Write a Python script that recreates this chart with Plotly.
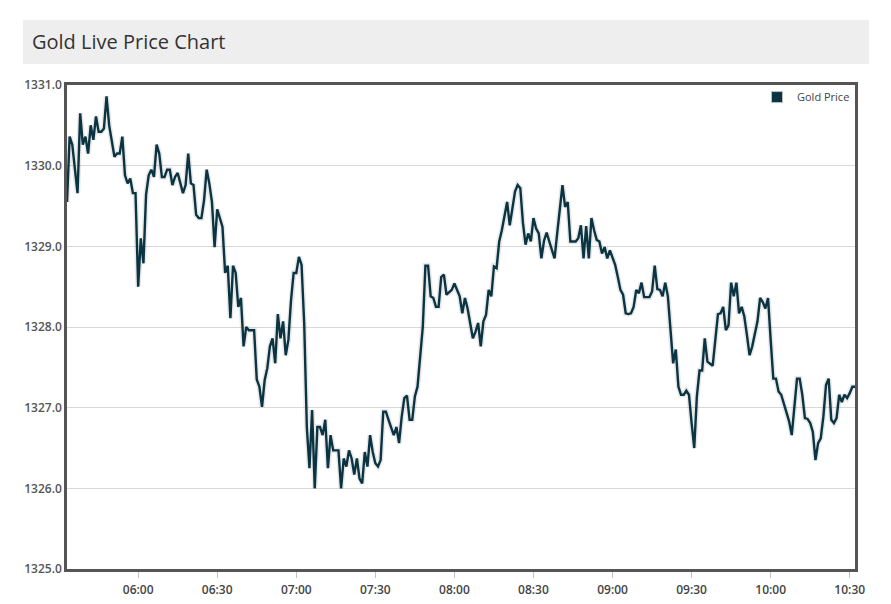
import plotly.graph_objects as go

# ---------------- data ----------------
DATE = "2018-03-14"
title_text = "Gold Live Price Chart"
series_name = "Gold Price"
y_ticks = [1325, 1326, 1327, 1328, 1329, 1330, 1331]

times = [
    "05:33", "05:34", "05:35", "05:37", "05:38", "05:39", "05:40", "05:41", "05:42", "05:43",
    "05:44", "05:45", "05:46", "05:47", "05:48", "05:49", "05:51", "05:52", "05:53", "05:54",
    "05:55", "05:56", "05:57", "05:58", "05:59",
    "06:00", "06:01", "06:02", "06:03", "06:04", "06:05", "06:06", "06:07", "06:08", "06:09",
    "06:10", "06:11", "06:12", "06:13", "06:14", "06:15", "06:16", "06:17", "06:18", "06:19",
    "06:20", "06:21", "06:22", "06:23", "06:24", "06:25", "06:26", "06:27", "06:28", "06:29",
    "06:30", "06:31", "06:32", "06:33", "06:34", "06:35", "06:36", "06:37", "06:38", "06:39",
    "06:40", "06:41", "06:42", "06:43", "06:44", "06:45", "06:46", "06:47", "06:48", "06:49",
    "06:50", "06:51", "06:52", "06:53", "06:54", "06:55", "06:56", "06:57", "06:58", "06:59",
    "07:00", "07:01", "07:02", "07:03", "07:04", "07:05", "07:06", "07:07", "07:08", "07:09",
    "07:10", "07:11", "07:12", "07:13", "07:14", "07:15", "07:16", "07:17", "07:18", "07:19",
    "07:20", "07:21", "07:22", "07:23", "07:24", "07:25", "07:26", "07:27", "07:28", "07:29",
    "07:30", "07:31", "07:32", "07:33", "07:34", "07:35", "07:36", "07:37", "07:38", "07:39",
    "07:40", "07:41", "07:42", "07:43", "07:44", "07:45", "07:46", "07:47", "07:48", "07:49",
    "07:50", "07:51", "07:52", "07:53", "07:54", "07:55", "07:56", "07:57", "07:59",
    "08:00", "08:01", "08:02", "08:03", "08:04", "08:05", "08:06", "08:07", "08:08", "08:09",
    "08:10", "08:11", "08:12", "08:13", "08:14", "08:15", "08:16", "08:17", "08:18", "08:19",
    "08:20", "08:21", "08:22", "08:23", "08:24", "08:25", "08:26", "08:27", "08:28", "08:29",
    "08:30", "08:31", "08:32", "08:33", "08:34", "08:35", "08:36", "08:37", "08:38", "08:39",
    "08:40", "08:41", "08:42", "08:43", "08:44", "08:45", "08:46", "08:47", "08:48", "08:49",
    "08:50", "08:51", "08:52", "08:53", "08:54", "08:55", "08:56", "08:57", "08:58", "08:59",
    "09:00", "09:01", "09:02", "09:03", "09:04", "09:05", "09:06", "09:07", "09:08", "09:09",
    "09:10", "09:11", "09:12", "09:13", "09:14", "09:15", "09:16", "09:17", "09:18", "09:19",
    "09:20", "09:21", "09:22", "09:23", "09:24", "09:25", "09:26", "09:27", "09:28", "09:29",
    "09:30", "09:31", "09:32", "09:33", "09:34", "09:35", "09:36", "09:37", "09:38", "09:39",
    "09:40", "09:41", "09:42", "09:43", "09:44", "09:45", "09:46", "09:47", "09:48", "09:49",
    "09:50", "09:51", "09:52", "09:53", "09:54", "09:55", "09:56", "09:57", "09:58", "09:59",
    "10:00", "10:01", "10:02", "10:03", "10:04", "10:05", "10:06", "10:07", "10:08", "10:09",
    "10:10", "10:11", "10:12", "10:13", "10:14", "10:15", "10:16", "10:17", "10:18", "10:19",
    "10:20", "10:21", "10:22", "10:23", "10:24", "10:25", "10:26", "10:27", "10:28", "10:29",
    "10:30", "10:31", "10:32",
]

prices = [
    1329.55, 1330.36, 1330.26, 1329.66, 1330.65, 1330.26, 1330.36, 1330.15, 1330.50, 1330.32,
    1330.61, 1330.42, 1330.42, 1330.46, 1330.86, 1330.50, 1330.11, 1330.15, 1330.15, 1330.36,
    1329.88, 1329.78, 1329.84, 1329.66, 1329.66,
    1328.50, 1329.10, 1328.79, 1329.64, 1329.88, 1329.95, 1329.86, 1330.26, 1330.15, 1329.86,
    1329.86, 1329.95, 1329.95, 1329.76, 1329.86, 1329.91, 1329.80, 1329.66, 1329.76, 1330.15,
    1329.78, 1329.76, 1329.39, 1329.35, 1329.35, 1329.57, 1329.95, 1329.78, 1329.55, 1328.99,
    1329.46, 1329.35, 1329.24, 1328.67, 1328.76, 1328.11, 1328.76, 1328.67, 1328.25, 1328.36,
    1327.76, 1328.00, 1327.96, 1327.96, 1327.96, 1327.35, 1327.26, 1327.01, 1327.34, 1327.49,
    1327.76, 1327.86, 1327.55, 1328.16, 1327.86, 1328.07, 1327.65, 1327.84, 1328.33, 1328.67,
    1328.67, 1328.87, 1328.77, 1328.05, 1326.76, 1326.25, 1326.97, 1326.00, 1326.76, 1326.76,
    1326.66, 1326.85, 1326.25, 1326.66, 1326.47, 1326.47, 1326.47, 1326.00, 1326.37, 1326.27,
    1326.47, 1326.37, 1326.17, 1326.37, 1326.12, 1326.06, 1326.45, 1326.27, 1326.66, 1326.45,
    1326.31, 1326.27, 1326.35, 1326.95, 1326.95, 1326.85, 1326.74, 1326.66, 1326.76, 1326.56,
    1326.89, 1327.12, 1327.15, 1326.85, 1326.85, 1327.14, 1327.26, 1327.63, 1328.00, 1328.76,
    1328.76, 1328.38, 1328.36, 1328.25, 1328.25, 1328.62, 1328.65, 1328.40, 1328.46,
    1328.54, 1328.46, 1328.38, 1328.17, 1328.36, 1328.23, 1328.05, 1327.86, 1327.94, 1328.05,
    1327.76, 1328.07, 1328.15, 1328.46, 1328.38, 1328.75, 1328.73, 1329.06, 1329.20, 1329.37,
    1329.55, 1329.26, 1329.49, 1329.68, 1329.76, 1329.72, 1329.29, 1329.02, 1329.16, 1329.06,
    1329.35, 1329.22, 1329.16, 1328.85, 1329.07, 1329.17, 1329.06, 1328.95, 1328.85, 1329.16,
    1329.49, 1329.76, 1329.49, 1329.55, 1329.06, 1329.06, 1329.06, 1329.10, 1329.26, 1328.85,
    1329.25, 1328.85, 1329.35, 1329.20, 1329.08, 1329.06, 1328.91, 1328.99, 1328.85, 1328.95,
    1328.87, 1328.77, 1328.62, 1328.46, 1328.40, 1328.17, 1328.16, 1328.17, 1328.25, 1328.46,
    1328.42, 1328.55, 1328.37, 1328.37, 1328.37, 1328.44, 1328.76, 1328.47, 1328.46, 1328.38,
    1328.55, 1328.38, 1327.94, 1327.55, 1327.72, 1327.26, 1327.16, 1327.16, 1327.21, 1327.16,
    1326.81, 1326.50, 1327.14, 1327.46, 1327.46, 1327.86, 1327.57, 1327.55, 1327.52, 1327.84,
    1328.16, 1328.17, 1328.25, 1327.96, 1328.02, 1328.55, 1328.38, 1328.55, 1328.17, 1328.25,
    1328.13, 1327.90, 1327.65, 1327.76, 1327.90, 1328.07, 1328.36, 1328.31, 1328.23, 1328.36,
    1327.84, 1327.36, 1327.36, 1327.20, 1327.16, 1327.05, 1326.95, 1326.83, 1326.66, 1327.01,
    1327.36, 1327.36, 1327.16, 1326.87, 1326.86, 1326.81, 1326.70, 1326.35, 1326.56, 1326.62,
    1326.89, 1327.28, 1327.36, 1326.85, 1326.81, 1326.87, 1327.16, 1327.07, 1327.16, 1327.12,
    1327.18, 1327.26, 1327.26,
]

# ---------------- styling / layout ----------------
LINE = "#0b3443"
W, H = 891, 604
L, R, T, B = 67, 855, 85, 569  # plot-area box in page pixels


def px(xp):
    return (xp - L) / (R - L)


def py(yp):
    return (B - yp) / (B - T)


x = [f"{DATE} {t}:00" for t in times]

fig = go.Figure()
# soft shadow under the line
fig.add_trace(go.Scatter(x=x, y=prices, mode="lines",
                         line=dict(color="rgba(0,0,0,0.09)", width=5.5),
                         hoverinfo="skip", showlegend=False))
fig.add_trace(go.Scatter(x=x, y=prices, mode="lines", name=series_name,
                         line=dict(color=LINE, width=2.4), showlegend=False))
# legend entry (square swatch)
fig.add_trace(go.Scatter(x=[None], y=[None], mode="markers", name=series_name,
                         marker=dict(symbol="square", size=11, color=LINE,
                                     line=dict(color="#bdbdbd", width=1)),
                         showlegend=True))

fig.update_layout(
    width=W, height=H,
    margin=dict(l=L, r=W - R, t=T, b=H - B, pad=0, autoexpand=False),
    paper_bgcolor="white", plot_bgcolor="white",
    shapes=[dict(type="rect", xref="paper", yref="paper",
                 x0=px(23), x1=px(869), y0=py(64), y1=py(20),
                 fillcolor="#eeeeee", line_width=0, layer="below")],
    annotations=[dict(text=title_text, xref="paper", yref="paper",
                      x=px(30), y=py(41), xanchor="left", yanchor="middle",
                      showarrow=False,
                      font=dict(family="Open Sans", size=20, color="#333333"))],
    legend=dict(x=1, y=1.005, xanchor="right", yanchor="top",
                bgcolor="rgba(0,0,0,0)", itemwidth=30,
                font=dict(family="Open Sans", size=11, color="#444444")),
    xaxis=dict(type="date", range=[x[0], x[-1]], tickformat="%H:%M",
               dtick=1800000, tick0=f"{DATE} 06:00:00", automargin=False,
               showgrid=False, zeroline=False,
               showline=True, mirror=True, linecolor="#555555", linewidth=2.5,
               ticks="outside", ticklen=6, tickcolor="#c0c0c0", tickwidth=1,
               ticklabelstandoff=2,
               tickfont=dict(family="Open Sans", size=12, color="#444444", weight=600)),
    yaxis=dict(range=[1325, 1331], tickvals=y_ticks, tickformat=".1f", automargin=False,
               showgrid=True, gridcolor="#d8d8d8", gridwidth=1, zeroline=False,
               showline=True, mirror=True, linecolor="#555555", linewidth=2.5,
               ticks="", ticklabelstandoff=0,
               tickfont=dict(family="Open Sans", size=12, color="#555555", weight=600)),
    hovermode=False,
)

fig.write_html("out.html")
